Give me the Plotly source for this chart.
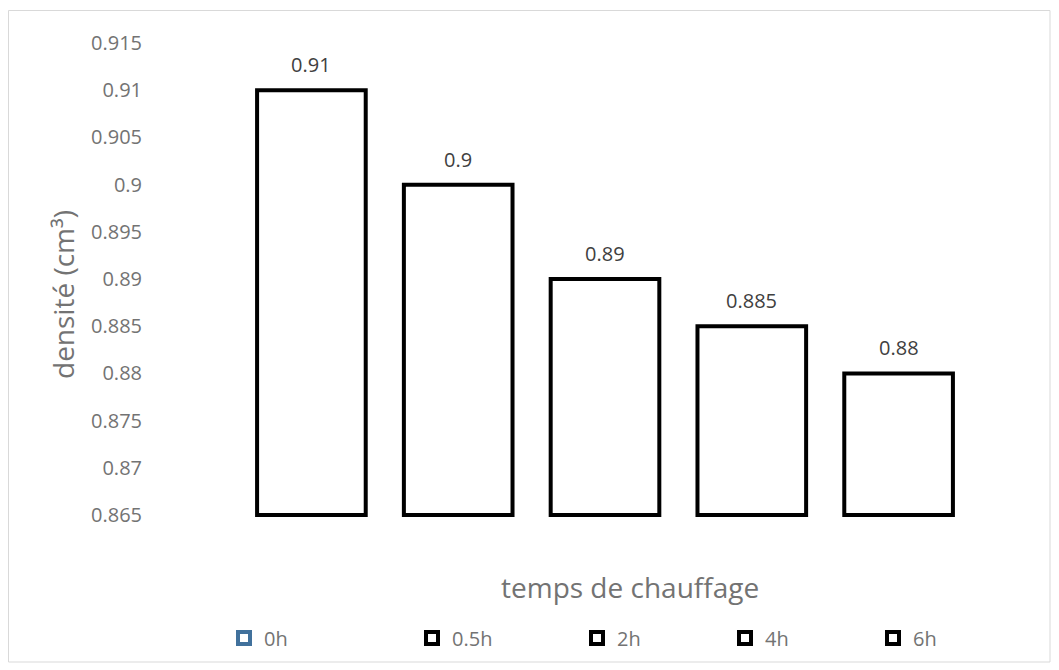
import plotly.graph_objects as go

categories = ["0h", "0.5h", "2h", "4h", "6h"]
densite = [0.91, 0.90, 0.89, 0.885, 0.88]
y_ticks = [0.865, 0.87, 0.875, 0.88, 0.885, 0.89, 0.895, 0.9, 0.905, 0.91, 0.915]
y_tick_labels = ["0.865", "0.87", "0.875", "0.88", "0.885", "0.89", "0.895", "0.9", "0.905", "0.91", "0.915"]
axis_base = 0.865
legend_colors = ["#41719C", "#000000", "#000000", "#000000", "#000000"]
x_title = "temps de chauffage"
y_title = "densité (cm³)"

FONT = "Open Sans"
TXT = "#737373"
OFF = 8  # page body margin

W, H = 1043, 655
L = 238 - OFF
R = W - (972 - OFF)
T = 43 - OFF
B = H - (517 - OFF)
pw, ph = W - L - R, H - T - B


def px_x(page_x):
    return (page_x - OFF - L) / pw


def px_y(page_y):
    return (H - B - (page_y - OFF)) / ph


# page x of the centre of each legend symbol in the reference
legend_symbol_x = [248, 436, 601, 749, 897]

fig = go.Figure()

for cat, val in zip(categories, densite):
    fig.add_trace(go.Bar(
        x=[cat], y=[val - axis_base], base=[axis_base], name=cat,
        marker=dict(color="white", line=dict(color="black", width=4)),
        width=0.74, showlegend=False, hoverinfo="skip",
    ))

legend_layouts = {}
for i, (cat, col) in enumerate(zip(categories, legend_colors)):
    lname = "legend" if i == 0 else f"legend{i + 1}"
    fig.add_trace(go.Bar(
        x=[categories[0]], y=[None], name=cat, legend=lname,
        marker=dict(color="white", line=dict(color=col, width=4)),
        showlegend=True, hoverinfo="skip",
    ))
    legend_layouts[lname] = dict(
        orientation="h", x=px_x(legend_symbol_x[i] - 24), xanchor="left",
        y=px_y(638), yanchor="middle", itemwidth=30,
        font=dict(family=FONT, size=20, color=TXT), itemclick=False,
        bgcolor="rgba(0,0,0,0)",
    )

for cat, val in zip(categories, densite):
    fig.add_annotation(x=cat, y=val, text=str(val), showarrow=False,
                       yanchor="bottom", yshift=10,
                       font=dict(family=FONT, size=20, color="#404040"))

# axis titles
fig.add_annotation(xref="paper", yref="paper", x=px_x(630), y=px_y(587),
                   xanchor="center", yanchor="middle", text=x_title, showarrow=False,
                   font=dict(family=FONT, size=28, color=TXT))
fig.add_annotation(xref="paper", yref="paper", x=px_x(63), y=px_y(295),
                   xanchor="center", yanchor="middle", text=y_title, showarrow=False,
                   textangle=-90, font=dict(family=FONT, size=28, color=TXT))

fig.add_shape(type="rect", xref="paper", yref="paper",
              x0=px_x(8.5), x1=px_x(1050), y0=px_y(662), y1=px_y(10.5),
              line=dict(color="#D9D9D9", width=1), fillcolor="rgba(0,0,0,0)", layer="below")

fig.update_layout(
    width=W, height=H,
    margin=dict(l=L, r=R, t=T, b=B, autoexpand=False),
    paper_bgcolor="white", plot_bgcolor="white",
    barmode="overlay",
    font=dict(family=FONT, color=TXT, size=20),
    xaxis=dict(showticklabels=False, showgrid=False, zeroline=False, showline=False,
               range=[-0.5, 4.5]),
    yaxis=dict(range=[0.8648, 0.915], tickvals=y_ticks, ticktext=y_tick_labels,
               showgrid=False, zeroline=False, showline=False, ticks="",
               ticklabelstandoff=95, automargin=False,
               tickfont=dict(size=20, color=TXT)),
    showlegend=True,
    **legend_layouts,
)

fig.write_html("out.html")
